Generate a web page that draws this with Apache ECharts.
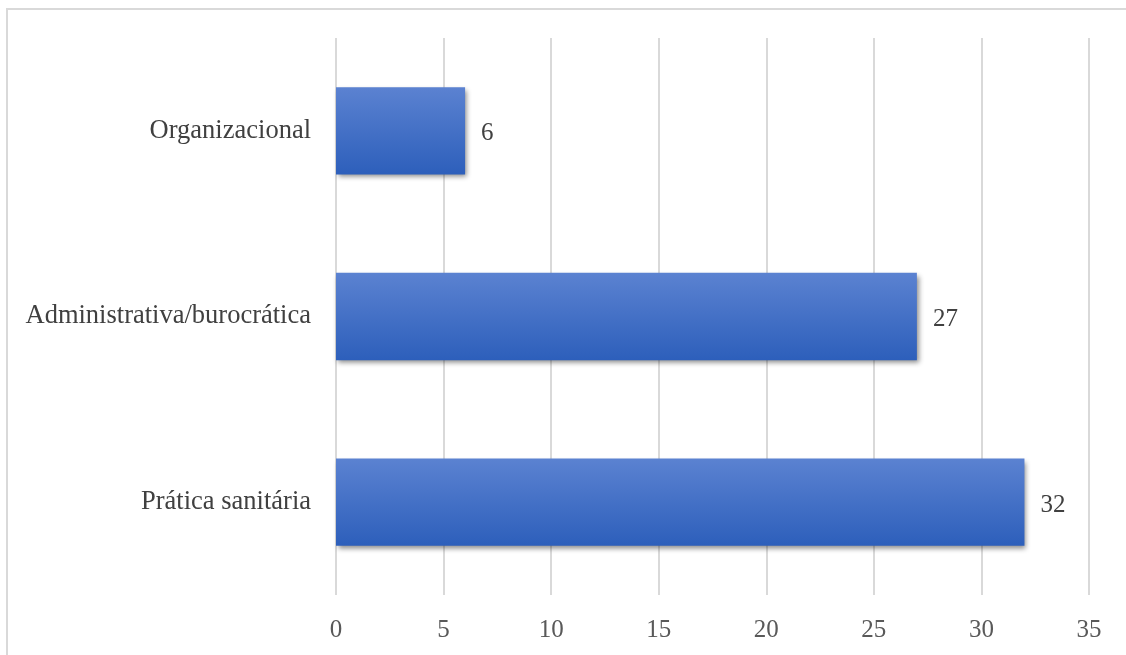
<!DOCTYPE html>
<html>
<head>
<meta charset="utf-8">
<script src="https://cdn.jsdelivr.net/npm/echarts@6/dist/echarts.min.js"></script>
<style>
html,body{margin:0;padding:0;background:#fff;}
#frame{position:absolute;left:6px;top:8px;width:1120px;height:647px;border-left:2px solid #d9d9d9;border-top:2px solid #d9d9d9;box-sizing:border-box;}
#chart{position:absolute;left:0;top:0;width:1126px;height:655px;}
</style>
</head>
<body>
<div id="frame"></div>
<div id="chart"></div>
<script>
const categories = ['Prática sanitária', 'Administrativa/burocrática', 'Organizacional'];
const values = [32, 27, 6];
const xTicks = [0, 5, 10, 15, 20, 25, 30, 35];

const chart = echarts.init(document.getElementById('chart'), null, {renderer: 'canvas'});
const font = '"Liberation Serif", "Times New Roman", serif';
chart.setOption({
  animation: false,
  grid: {left: 336, right: 37, top: 38, bottom: 60, containLabel: false},
  xAxis: {
    type: 'value', min: xTicks[0], max: xTicks[xTicks.length - 1], interval: 5,
    axisLine: {show: false}, axisTick: {show: false},
    splitLine: {show: true, lineStyle: {color: '#d9d9d9', width: 2}},
    axisLabel: {color: '#595959', fontFamily: font, fontSize: 25, margin: 23}
  },
  yAxis: {
    type: 'category', data: categories,
    axisLine: {show: false}, axisTick: {show: false},
    axisLabel: {color: '#404040', fontFamily: font, fontSize: 26.5, margin: 25, padding: [6, 0, 0, 0]}
  },
  series: [{
    type: 'bar', data: values, barCategoryGap: '53%',
    itemStyle: {
      color: new echarts.graphic.LinearGradient(0, 0, 0, 1, [
        {offset: 0, color: '#5b82d1'},
        {offset: 1, color: '#2d5fbb'}
      ]),
      shadowColor: 'rgba(0,0,0,0.45)', shadowBlur: 5, shadowOffsetX: 2, shadowOffsetY: 3
    },
    label: {show: true, position: 'right', distance: 16, offset: [0, 3], color: '#404040', fontFamily: font, fontSize: 25}
  }]
});
</script>
</body>
</html>
